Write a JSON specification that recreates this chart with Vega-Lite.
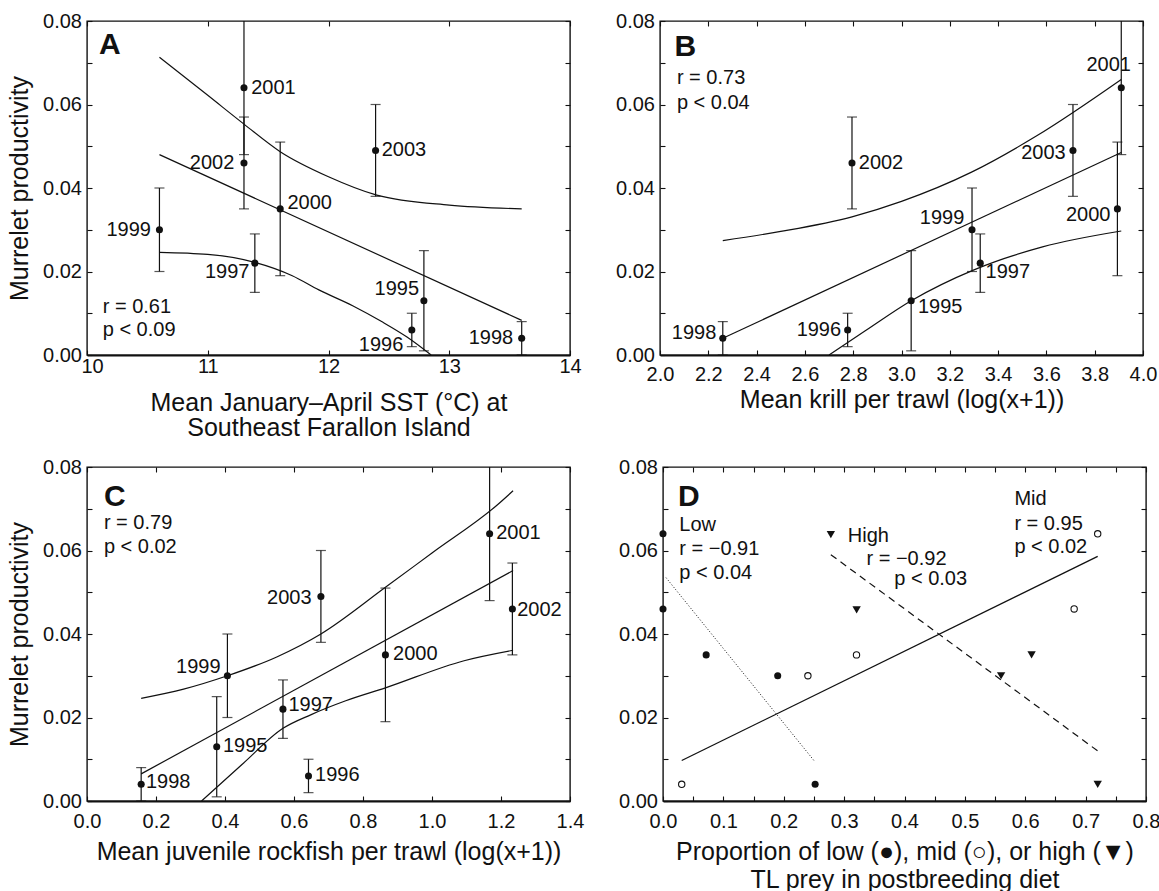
{
  "$schema": "https://vega.github.io/schema/vega-lite/v6.json",
  "background": "white",
  "padding": {"left": 6, "top": 10, "right": 0, "bottom": 0},
  "config": {
    "font": "Liberation Sans",
    "view": {"stroke": "#111", "strokeWidth": 1.4},
    "axis": {"labelFont": "Liberation Sans", "titleFont": "Liberation Sans", "labelFontSize": 20, "titleFontSize": 25, "titleFontWeight": "normal", "labelColor": "#111", "titleColor": "#111", "tickColor": "#111", "tickWidth": 1.1, "tickSize": -5, "grid": false, "domain": false, "labelOverlap": false, "labelFlush": false},
    "text": {"font": "Liberation Sans", "fontSize": 20, "color": "#111"}
  },
  "datasets": {
    "pts": [
      {"panel": "A", "year": 1995, "x": 12.79, "y": 0.013, "lo": 0.001, "hi": 0.025},
      {"panel": "A", "year": 1996, "x": 12.69, "y": 0.006, "lo": 0.002, "hi": 0.010},
      {"panel": "A", "year": 1997, "x": 11.39, "y": 0.022, "lo": 0.015, "hi": 0.029},
      {"panel": "A", "year": 1998, "x": 13.6, "y": 0.004, "lo": 0.0, "hi": 0.008},
      {"panel": "A", "year": 1999, "x": 10.6, "y": 0.030, "lo": 0.020, "hi": 0.040},
      {"panel": "A", "year": 2000, "x": 11.6, "y": 0.035, "lo": 0.019, "hi": 0.051},
      {"panel": "A", "year": 2001, "x": 11.3, "y": 0.064, "lo": 0.048, "hi": 0.085},
      {"panel": "A", "year": 2002, "x": 11.3, "y": 0.046, "lo": 0.035, "hi": 0.057},
      {"panel": "A", "year": 2003, "x": 12.39, "y": 0.049, "lo": 0.038, "hi": 0.060},
      {"panel": "B", "year": 1995, "x": 3.04, "y": 0.013, "lo": 0.001, "hi": 0.025},
      {"panel": "B", "year": 1996, "x": 2.777, "y": 0.006, "lo": 0.002, "hi": 0.010},
      {"panel": "B", "year": 1997, "x": 3.326, "y": 0.022, "lo": 0.015, "hi": 0.029},
      {"panel": "B", "year": 1998, "x": 2.26, "y": 0.004, "lo": 0.0, "hi": 0.008},
      {"panel": "B", "year": 1999, "x": 3.292, "y": 0.030, "lo": 0.020, "hi": 0.040},
      {"panel": "B", "year": 2000, "x": 3.894, "y": 0.035, "lo": 0.019, "hi": 0.051},
      {"panel": "B", "year": 2001, "x": 3.91, "y": 0.064, "lo": 0.048, "hi": 0.085},
      {"panel": "B", "year": 2002, "x": 2.795, "y": 0.046, "lo": 0.035, "hi": 0.057},
      {"panel": "B", "year": 2003, "x": 3.71, "y": 0.049, "lo": 0.038, "hi": 0.060},
      {"panel": "C", "year": 1995, "x": 0.376, "y": 0.013, "lo": 0.001, "hi": 0.025},
      {"panel": "C", "year": 1996, "x": 0.642, "y": 0.006, "lo": 0.002, "hi": 0.010},
      {"panel": "C", "year": 1997, "x": 0.568, "y": 0.022, "lo": 0.015, "hi": 0.029},
      {"panel": "C", "year": 1998, "x": 0.157, "y": 0.004, "lo": 0.0, "hi": 0.008},
      {"panel": "C", "year": 1999, "x": 0.407, "y": 0.030, "lo": 0.020, "hi": 0.040},
      {"panel": "C", "year": 2000, "x": 0.865, "y": 0.035, "lo": 0.019, "hi": 0.051},
      {"panel": "C", "year": 2001, "x": 1.167, "y": 0.064, "lo": 0.048, "hi": 0.085},
      {"panel": "C", "year": 2002, "x": 1.233, "y": 0.046, "lo": 0.035, "hi": 0.057},
      {"panel": "C", "year": 2003, "x": 0.678, "y": 0.049, "lo": 0.038, "hi": 0.060}
    ],
    "curves": [
      {"panel": "A", "band": "upper", "x": 10.6, "y": 0.0713},
      {"panel": "A", "band": "upper", "x": 11.0, "y": 0.0622},
      {"panel": "A", "band": "upper", "x": 11.3, "y": 0.0553},
      {"panel": "A", "band": "upper", "x": 11.6, "y": 0.0487},
      {"panel": "A", "band": "upper", "x": 12.0, "y": 0.0427},
      {"panel": "A", "band": "upper", "x": 12.4, "y": 0.0383},
      {"panel": "A", "band": "upper", "x": 13.0, "y": 0.0359},
      {"panel": "A", "band": "upper", "x": 13.6, "y": 0.035},
      {"panel": "A", "band": "fit", "x": 10.6, "y": 0.048},
      {"panel": "A", "band": "fit", "x": 13.6, "y": 0.0083},
      {"panel": "A", "band": "lower", "x": 10.6, "y": 0.0246},
      {"panel": "A", "band": "lower", "x": 11.0, "y": 0.0241},
      {"panel": "A", "band": "lower", "x": 11.39, "y": 0.0222},
      {"panel": "A", "band": "lower", "x": 11.7, "y": 0.019},
      {"panel": "A", "band": "lower", "x": 11.92, "y": 0.0156},
      {"panel": "A", "band": "lower", "x": 12.2, "y": 0.0118},
      {"panel": "A", "band": "lower", "x": 12.44, "y": 0.008},
      {"panel": "A", "band": "lower", "x": 12.65, "y": 0.0043},
      {"panel": "A", "band": "lower", "x": 12.85, "y": 0.0},
      {"panel": "B", "band": "upper", "x": 2.26, "y": 0.0274},
      {"panel": "B", "band": "upper", "x": 2.5, "y": 0.0296},
      {"panel": "B", "band": "upper", "x": 2.795, "y": 0.0331},
      {"panel": "B", "band": "upper", "x": 3.0, "y": 0.0368},
      {"panel": "B", "band": "upper", "x": 3.29, "y": 0.0438},
      {"panel": "B", "band": "upper", "x": 3.56, "y": 0.0525},
      {"panel": "B", "band": "upper", "x": 3.91, "y": 0.066},
      {"panel": "B", "band": "fit", "x": 2.26, "y": 0.004},
      {"panel": "B", "band": "fit", "x": 3.91, "y": 0.0485},
      {"panel": "B", "band": "lower", "x": 2.70, "y": 0.0},
      {"panel": "B", "band": "lower", "x": 2.85, "y": 0.0058},
      {"panel": "B", "band": "lower", "x": 3.04, "y": 0.013},
      {"panel": "B", "band": "lower", "x": 3.30, "y": 0.0204},
      {"panel": "B", "band": "lower", "x": 3.584, "y": 0.0259},
      {"panel": "B", "band": "lower", "x": 3.91, "y": 0.0297},
      {"panel": "C", "band": "upper", "x": 0.157, "y": 0.0246},
      {"panel": "C", "band": "upper", "x": 0.28, "y": 0.0268},
      {"panel": "C", "band": "upper", "x": 0.407, "y": 0.030},
      {"panel": "C", "band": "upper", "x": 0.55, "y": 0.0345},
      {"panel": "C", "band": "upper", "x": 0.678, "y": 0.040},
      {"panel": "C", "band": "upper", "x": 0.867, "y": 0.0513},
      {"panel": "C", "band": "upper", "x": 1.0, "y": 0.0594},
      {"panel": "C", "band": "upper", "x": 1.189, "y": 0.0709},
      {"panel": "C", "band": "upper", "x": 1.235, "y": 0.0743},
      {"panel": "C", "band": "fit", "x": 0.157, "y": 0.0065},
      {"panel": "C", "band": "fit", "x": 1.235, "y": 0.0552},
      {"panel": "C", "band": "lower", "x": 0.332, "y": 0.0},
      {"panel": "C", "band": "lower", "x": 0.45, "y": 0.0088},
      {"panel": "C", "band": "lower", "x": 0.568, "y": 0.0174},
      {"panel": "C", "band": "lower", "x": 0.65, "y": 0.0207},
      {"panel": "C", "band": "lower", "x": 0.75, "y": 0.024},
      {"panel": "C", "band": "lower", "x": 0.865, "y": 0.0271},
      {"panel": "C", "band": "lower", "x": 1.093, "y": 0.0336},
      {"panel": "C", "band": "lower", "x": 1.235, "y": 0.0361}
    ],
    "labels": [
      {"panel": "A", "text": "2001", "x": 11.36, "y": 0.064, "side": "R"},
      {"panel": "A", "text": "2002", "x": 11.22, "y": 0.046, "side": "L"},
      {"panel": "A", "text": "2003", "x": 12.44, "y": 0.049, "side": "R"},
      {"panel": "A", "text": "2000", "x": 11.66, "y": 0.0365, "side": "R"},
      {"panel": "A", "text": "1999", "x": 10.53, "y": 0.030, "side": "L"},
      {"panel": "A", "text": "1997", "x": 11.345, "y": 0.0198, "side": "L"},
      {"panel": "A", "text": "1995", "x": 12.75, "y": 0.0158, "side": "L"},
      {"panel": "A", "text": "1996", "x": 12.62, "y": 0.0024, "side": "L"},
      {"panel": "A", "text": "1998", "x": 13.53, "y": 0.0041, "side": "L"},
      {"panel": "B", "text": "1998", "x": 2.233, "y": 0.0052, "side": "L"},
      {"panel": "B", "text": "1996", "x": 2.75, "y": 0.006, "side": "L"},
      {"panel": "B", "text": "1995", "x": 3.068, "y": 0.0114, "side": "R"},
      {"panel": "B", "text": "1999", "x": 3.26, "y": 0.0327, "side": "L"},
      {"panel": "B", "text": "1997", "x": 3.348, "y": 0.0198, "side": "R"},
      {"panel": "B", "text": "2000", "x": 3.865, "y": 0.0335, "side": "L"},
      {"panel": "B", "text": "2002", "x": 2.823, "y": 0.046, "side": "R"},
      {"panel": "B", "text": "2003", "x": 3.68, "y": 0.0485, "side": "L"},
      {"panel": "B", "text": "2001", "x": 3.95, "y": 0.0695, "side": "L"},
      {"panel": "C", "text": "1998", "x": 0.171, "y": 0.0045, "side": "R"},
      {"panel": "C", "text": "1995", "x": 0.394, "y": 0.0132, "side": "R"},
      {"panel": "C", "text": "1999", "x": 0.387, "y": 0.0322, "side": "L"},
      {"panel": "C", "text": "1997", "x": 0.584, "y": 0.023, "side": "R"},
      {"panel": "C", "text": "1996", "x": 0.661, "y": 0.0062, "side": "R"},
      {"panel": "C", "text": "2000", "x": 0.887, "y": 0.0352, "side": "R"},
      {"panel": "C", "text": "2003", "x": 0.651, "y": 0.0487, "side": "L"},
      {"panel": "C", "text": "2001", "x": 1.186, "y": 0.0641, "side": "R"},
      {"panel": "C", "text": "2002", "x": 1.247, "y": 0.0457, "side": "R"}
    ],
    "notes": [
      {"panel": "A", "text": "A", "x": 10.1, "y": 0.0743, "kind": "letter"},
      {"panel": "A", "text": "r = 0.61", "x": 10.13, "y": 0.0114, "kind": "stat"},
      {"panel": "A", "text": "p < 0.09", "x": 10.13, "y": 0.006, "kind": "stat"},
      {"panel": "B", "text": "B", "x": 2.06, "y": 0.0738, "kind": "letter"},
      {"panel": "B", "text": "r = 0.73", "x": 2.07, "y": 0.0663, "kind": "stat"},
      {"panel": "B", "text": "p < 0.04", "x": 2.07, "y": 0.0604, "kind": "stat"},
      {"panel": "C", "text": "C", "x": 0.049, "y": 0.0729, "kind": "letter"},
      {"panel": "C", "text": "r = 0.79", "x": 0.049, "y": 0.0665, "kind": "stat"},
      {"panel": "C", "text": "p < 0.02", "x": 0.049, "y": 0.0608, "kind": "stat"},
      {"panel": "D", "text": "D", "x": 0.025, "y": 0.0728, "kind": "letter"},
      {"panel": "D", "text": "Low", "x": 0.027, "y": 0.0662, "kind": "stat"},
      {"panel": "D", "text": "r = −0.91", "x": 0.027, "y": 0.0604, "kind": "stat"},
      {"panel": "D", "text": "p < 0.04", "x": 0.027, "y": 0.0547, "kind": "stat"},
      {"panel": "D", "text": "High", "x": 0.306, "y": 0.0635, "kind": "stat"},
      {"panel": "D", "text": "r = −0.92", "x": 0.337, "y": 0.058, "kind": "stat"},
      {"panel": "D", "text": "p < 0.03", "x": 0.383, "y": 0.0532, "kind": "stat"},
      {"panel": "D", "text": "Mid", "x": 0.582, "y": 0.0724, "kind": "stat"},
      {"panel": "D", "text": "r = 0.95", "x": 0.582, "y": 0.0664, "kind": "stat"},
      {"panel": "D", "text": "p < 0.02", "x": 0.582, "y": 0.0608, "kind": "stat"}
    ],
    "diet": [
      {"cat": "low", "year": 2001, "x": 0.0, "y": 0.064},
      {"cat": "low", "year": 2002, "x": 0.0, "y": 0.046},
      {"cat": "low", "year": 2000, "x": 0.0715, "y": 0.035},
      {"cat": "low", "year": 1999, "x": 0.19, "y": 0.030},
      {"cat": "low", "year": 1998, "x": 0.252, "y": 0.004},
      {"cat": "mid", "year": 2001, "x": 0.72, "y": 0.064},
      {"cat": "mid", "year": 2002, "x": 0.681, "y": 0.046},
      {"cat": "mid", "year": 2000, "x": 0.3205, "y": 0.035},
      {"cat": "mid", "year": 1999, "x": 0.24, "y": 0.030},
      {"cat": "mid", "year": 1998, "x": 0.031, "y": 0.004},
      {"cat": "high", "year": 2001, "x": 0.278, "y": 0.0638},
      {"cat": "high", "year": 2002, "x": 0.3207, "y": 0.0458},
      {"cat": "high", "year": 2000, "x": 0.6105, "y": 0.035},
      {"cat": "high", "year": 1999, "x": 0.56, "y": 0.030},
      {"cat": "high", "year": 1998, "x": 0.72, "y": 0.004}
    ],
    "dietfit": [
      {"cat": "low", "x": 0.005, "y": 0.0535},
      {"cat": "low", "x": 0.25, "y": 0.0097},
      {"cat": "mid", "x": 0.031, "y": 0.0097},
      {"cat": "mid", "x": 0.72, "y": 0.0586},
      {"cat": "high", "x": 0.278, "y": 0.059},
      {"cat": "high", "x": 0.72, "y": 0.012}
    ]
  },
  "spacing": 14,
  "vconcat": [
    {
      "spacing": 32,
      "hconcat": [
        {
          "width": 483, "height": 334,
          "resolve": {"axis": {"x": "independent", "y": "independent"}},
          "encoding": {
            "x": {"field": "x", "type": "quantitative", "scale": {"domain": [10, 14], "nice": false, "zero": false}, "axis": null},
            "y": {"field": "y", "type": "quantitative", "scale": {"domain": [0, 0.08], "nice": false, "zero": false}, "axis": null}
          },
          "layer": [
            {
              "data": {"name": "pts"}, "transform": [{"filter": "datum.panel == 'A'"}],
              "mark": {"type": "rule", "color": "#111", "strokeWidth": 1.2, "clip": true},
              "encoding": {
                "x": {"field": "x", "type": "quantitative", "scale": {"domain": [10, 14], "nice": false, "zero": false},
                  "axis": {"orient": "bottom", "values": [10, 11, 12, 13, 14], "format": "d", "title": ["Mean January–April SST (°C) at", "Southeast Farallon Island"], "domain": true, "domainWidth": 2.2, "domainColor": "#111", "labelPadding": 6.3, "labelOffset": {"condition": {"test": "datum.value == 10", "value": 5}, "value": 0}, "titlePadding": 14, "titleLineHeight": 25.5}},
                "y": {"field": "lo", "type": "quantitative", "scale": {"domain": [0, 0.08], "nice": false, "zero": false},
                  "axis": {"orient": "left", "values": [0, 0.01, 0.02, 0.03, 0.04, 0.05, 0.06, 0.07, 0.08], "labelExpr": "round(datum.value*100) % 2 == 0 ? format(datum.value, '.2f') : ''", "title": "Murrelet productivity", "labelPadding": 10.5, "titlePadding": 10}},
                "y2": {"field": "hi"}
              }
            },
            {
              "data": {"name": "pts"}, "transform": [{"filter": "datum.panel == 'A'"}],
              "mark": {"type": "tick", "orient": "horizontal", "size": 10, "thickness": 1.2, "color": "#111", "clip": true},
              "encoding": {
                "x": {"field": "x", "type": "quantitative", "scale": {"domain": [10, 14], "nice": false, "zero": false},
                  "axis": {"orient": "top", "values": [10, 11, 12, 13, 14], "labels": false, "title": null}},
                "y": {"field": "lo", "type": "quantitative", "scale": {"domain": [0, 0.08], "nice": false, "zero": false},
                  "axis": {"orient": "right", "values": [0, 0.01, 0.02, 0.03, 0.04, 0.05, 0.06, 0.07, 0.08], "labels": false, "title": null}}
              }
            },
            {
              "data": {"name": "pts"}, "transform": [{"filter": "datum.panel == 'A'"}],
              "mark": {"type": "tick", "orient": "horizontal", "size": 10, "thickness": 1.2, "color": "#111", "clip": true},
              "encoding": {"y": {"field": "hi", "type": "quantitative", "scale": {"domain": [0, 0.08], "nice": false, "zero": false}, "axis": null}}
            },
            {
              "data": {"name": "curves"}, "transform": [{"filter": "datum.panel == 'A'"}],
              "mark": {"type": "line", "color": "#111", "strokeWidth": 1.2, "interpolate": "monotone"},
              "encoding": {"detail": {"field": "band"}}
            },
            {
              "data": {"name": "pts"}, "transform": [{"filter": "datum.panel == 'A'"}],
              "mark": {"type": "circle", "size": 50, "color": "#111", "opacity": 1}
            },
            {
              "data": {"name": "labels"}, "transform": [{"filter": "datum.panel == 'A' && datum.side == 'R'"}],
              "mark": {"type": "text", "align": "left", "baseline": "middle", "fontSize": 20},
              "encoding": {"text": {"field": "text"}}
            },
            {
              "data": {"name": "labels"}, "transform": [{"filter": "datum.panel == 'A' && datum.side == 'L'"}],
              "mark": {"type": "text", "align": "right", "baseline": "middle", "fontSize": 20},
              "encoding": {"text": {"field": "text"}}
            },
            {
              "data": {"name": "notes"}, "transform": [{"filter": "datum.panel == 'A' && datum.kind == 'letter'"}],
              "mark": {"type": "text", "align": "left", "baseline": "middle", "fontSize": 30, "fontWeight": "bold"},
              "encoding": {"text": {"field": "text"}}
            },
            {
              "data": {"name": "notes"}, "transform": [{"filter": "datum.panel == 'A' && datum.kind == 'stat'"}],
              "mark": {"type": "text", "align": "left", "baseline": "middle", "fontSize": 20},
              "encoding": {"text": {"field": "text"}}
            }
          ]
        },
        {
          "width": 483, "height": 334,
          "resolve": {"axis": {"x": "independent", "y": "independent"}},
          "encoding": {
            "x": {"field": "x", "type": "quantitative", "scale": {"domain": [2, 4], "nice": false, "zero": false}, "axis": null},
            "y": {"field": "y", "type": "quantitative", "scale": {"domain": [0, 0.08], "nice": false, "zero": false}, "axis": null}
          },
          "layer": [
            {
              "data": {"name": "pts"}, "transform": [{"filter": "datum.panel == 'B'"}],
              "mark": {"type": "rule", "color": "#111", "strokeWidth": 1.2, "clip": true},
              "encoding": {
                "x": {"field": "x", "type": "quantitative", "scale": {"domain": [2, 4], "nice": false, "zero": false},
                  "axis": {"orient": "bottom", "values": [2, 2.2, 2.4, 2.6, 2.8, 3, 3.2, 3.4, 3.6, 3.8, 4], "format": ".1f", "title": "Mean krill per trawl (log(x+1))", "domain": true, "domainWidth": 2.2, "domainColor": "#111", "labelPadding": 14.3, "titlePadding": 3}},
                "y": {"field": "lo", "type": "quantitative", "scale": {"domain": [0, 0.08], "nice": false, "zero": false},
                  "axis": {"orient": "left", "values": [0, 0.01, 0.02, 0.03, 0.04, 0.05, 0.06, 0.07, 0.08], "labelExpr": "round(datum.value*100) % 2 == 0 ? format(datum.value, '.2f') : ''", "title": null, "labelPadding": 10.5}},
                "y2": {"field": "hi"}
              }
            },
            {
              "data": {"name": "pts"}, "transform": [{"filter": "datum.panel == 'B'"}],
              "mark": {"type": "tick", "orient": "horizontal", "size": 10, "thickness": 1.2, "color": "#111", "clip": true},
              "encoding": {
                "x": {"field": "x", "type": "quantitative", "scale": {"domain": [2, 4], "nice": false, "zero": false},
                  "axis": {"orient": "top", "values": [2, 2.2, 2.4, 2.6, 2.8, 3, 3.2, 3.4, 3.6, 3.8, 4], "labels": false, "title": null}},
                "y": {"field": "lo", "type": "quantitative", "scale": {"domain": [0, 0.08], "nice": false, "zero": false},
                  "axis": {"orient": "right", "values": [0, 0.01, 0.02, 0.03, 0.04, 0.05, 0.06, 0.07, 0.08], "labels": false, "title": null}}
              }
            },
            {
              "data": {"name": "pts"}, "transform": [{"filter": "datum.panel == 'B'"}],
              "mark": {"type": "tick", "orient": "horizontal", "size": 10, "thickness": 1.2, "color": "#111", "clip": true},
              "encoding": {"y": {"field": "hi", "type": "quantitative", "scale": {"domain": [0, 0.08], "nice": false, "zero": false}, "axis": null}}
            },
            {
              "data": {"name": "curves"}, "transform": [{"filter": "datum.panel == 'B'"}],
              "mark": {"type": "line", "color": "#111", "strokeWidth": 1.2, "interpolate": "monotone"},
              "encoding": {"detail": {"field": "band"}}
            },
            {
              "data": {"name": "pts"}, "transform": [{"filter": "datum.panel == 'B'"}],
              "mark": {"type": "circle", "size": 50, "color": "#111", "opacity": 1}
            },
            {
              "data": {"name": "labels"}, "transform": [{"filter": "datum.panel == 'B' && datum.side == 'R'"}],
              "mark": {"type": "text", "align": "left", "baseline": "middle", "fontSize": 20},
              "encoding": {"text": {"field": "text"}}
            },
            {
              "data": {"name": "labels"}, "transform": [{"filter": "datum.panel == 'B' && datum.side == 'L'"}],
              "mark": {"type": "text", "align": "right", "baseline": "middle", "fontSize": 20},
              "encoding": {"text": {"field": "text"}}
            },
            {
              "data": {"name": "notes"}, "transform": [{"filter": "datum.panel == 'B' && datum.kind == 'letter'"}],
              "mark": {"type": "text", "align": "left", "baseline": "middle", "fontSize": 30, "fontWeight": "bold"},
              "encoding": {"text": {"field": "text"}}
            },
            {
              "data": {"name": "notes"}, "transform": [{"filter": "datum.panel == 'B' && datum.kind == 'stat'"}],
              "mark": {"type": "text", "align": "left", "baseline": "middle", "fontSize": 20},
              "encoding": {"text": {"field": "text"}}
            }
          ]
        }
      ]
    },
    {
      "spacing": 32,
      "hconcat": [
        {
          "width": 483, "height": 334,
          "resolve": {"axis": {"x": "independent", "y": "independent"}},
          "encoding": {
            "x": {"field": "x", "type": "quantitative", "scale": {"domain": [0, 1.4], "nice": false, "zero": false}, "axis": null},
            "y": {"field": "y", "type": "quantitative", "scale": {"domain": [0, 0.08], "nice": false, "zero": false}, "axis": null}
          },
          "layer": [
            {
              "data": {"name": "pts"}, "transform": [{"filter": "datum.panel == 'C'"}],
              "mark": {"type": "rule", "color": "#111", "strokeWidth": 1.2, "clip": true},
              "encoding": {
                "x": {"field": "x", "type": "quantitative", "scale": {"domain": [0, 1.4], "nice": false, "zero": false},
                  "axis": {"orient": "bottom", "values": [0, 0.2, 0.4, 0.6, 0.8, 1.0, 1.2, 1.4], "format": ".1f", "title": "Mean juvenile rockfish per trawl (log(x+1))", "domain": true, "domainWidth": 2.2, "domainColor": "#111", "labelPadding": 15.3, "titlePadding": 8}},
                "y": {"field": "lo", "type": "quantitative", "scale": {"domain": [0, 0.08], "nice": false, "zero": false},
                  "axis": {"orient": "left", "values": [0, 0.01, 0.02, 0.03, 0.04, 0.05, 0.06, 0.07, 0.08], "labelExpr": "round(datum.value*100) % 2 == 0 ? format(datum.value, '.2f') : ''", "title": "Murrelet productivity", "labelPadding": 10.5, "titlePadding": 10}},
                "y2": {"field": "hi"}
              }
            },
            {
              "data": {"name": "pts"}, "transform": [{"filter": "datum.panel == 'C'"}],
              "mark": {"type": "tick", "orient": "horizontal", "size": 10, "thickness": 1.2, "color": "#111", "clip": true},
              "encoding": {
                "x": {"field": "x", "type": "quantitative", "scale": {"domain": [0, 1.4], "nice": false, "zero": false},
                  "axis": {"orient": "top", "values": [0, 0.2, 0.4, 0.6, 0.8, 1.0, 1.2, 1.4], "labels": false, "title": null}},
                "y": {"field": "lo", "type": "quantitative", "scale": {"domain": [0, 0.08], "nice": false, "zero": false},
                  "axis": {"orient": "right", "values": [0, 0.01, 0.02, 0.03, 0.04, 0.05, 0.06, 0.07, 0.08], "labels": false, "title": null}}
              }
            },
            {
              "data": {"name": "pts"}, "transform": [{"filter": "datum.panel == 'C'"}],
              "mark": {"type": "tick", "orient": "horizontal", "size": 10, "thickness": 1.2, "color": "#111", "clip": true},
              "encoding": {"y": {"field": "hi", "type": "quantitative", "scale": {"domain": [0, 0.08], "nice": false, "zero": false}, "axis": null}}
            },
            {
              "data": {"name": "curves"}, "transform": [{"filter": "datum.panel == 'C'"}],
              "mark": {"type": "line", "color": "#111", "strokeWidth": 1.2, "interpolate": "monotone"},
              "encoding": {"detail": {"field": "band"}}
            },
            {
              "data": {"name": "pts"}, "transform": [{"filter": "datum.panel == 'C'"}],
              "mark": {"type": "circle", "size": 50, "color": "#111", "opacity": 1}
            },
            {
              "data": {"name": "labels"}, "transform": [{"filter": "datum.panel == 'C' && datum.side == 'R'"}],
              "mark": {"type": "text", "align": "left", "baseline": "middle", "fontSize": 20},
              "encoding": {"text": {"field": "text"}}
            },
            {
              "data": {"name": "labels"}, "transform": [{"filter": "datum.panel == 'C' && datum.side == 'L'"}],
              "mark": {"type": "text", "align": "right", "baseline": "middle", "fontSize": 20},
              "encoding": {"text": {"field": "text"}}
            },
            {
              "data": {"name": "notes"}, "transform": [{"filter": "datum.panel == 'C' && datum.kind == 'letter'"}],
              "mark": {"type": "text", "align": "left", "baseline": "middle", "fontSize": 30, "fontWeight": "bold"},
              "encoding": {"text": {"field": "text"}}
            },
            {
              "data": {"name": "notes"}, "transform": [{"filter": "datum.panel == 'C' && datum.kind == 'stat'"}],
              "mark": {"type": "text", "align": "left", "baseline": "middle", "fontSize": 20},
              "encoding": {"text": {"field": "text"}}
            }
          ]
        },
        {
          "width": 483, "height": 334,
          "resolve": {"axis": {"x": "independent", "y": "independent"}},
          "encoding": {
            "x": {"field": "x", "type": "quantitative", "scale": {"domain": [0, 0.8], "nice": false, "zero": false}, "axis": null},
            "y": {"field": "y", "type": "quantitative", "scale": {"domain": [0, 0.08], "nice": false, "zero": false}, "axis": null}
          },
          "layer": [
            {
              "data": {"name": "dietfit"}, "transform": [{"filter": "datum.cat == 'mid'"}],
              "mark": {"type": "line", "color": "#111", "strokeWidth": 1.3},
              "encoding": {
                "x": {"field": "x", "type": "quantitative", "scale": {"domain": [0, 0.8], "nice": false, "zero": false},
                  "axis": {"orient": "bottom", "values": [0, 0.05, 0.1, 0.15, 0.2, 0.25, 0.3, 0.35, 0.4, 0.45, 0.5, 0.55, 0.6, 0.65, 0.7, 0.75, 0.8], "labelExpr": "round(datum.value*100) % 10 == 0 ? format(datum.value, '.1f') : ''", "title": ["Proportion of low (●), mid (○), or high (▼)", "TL prey in postbreeding diet"], "domain": true, "domainWidth": 2.2, "domainColor": "#111", "labelPadding": 15.3, "titlePadding": 8, "titleLineHeight": 28}},
                "y": {"field": "y", "type": "quantitative", "scale": {"domain": [0, 0.08], "nice": false, "zero": false},
                  "axis": {"orient": "left", "values": [0, 0.01, 0.02, 0.03, 0.04, 0.05, 0.06, 0.07, 0.08], "labelExpr": "round(datum.value*100) % 2 == 0 ? format(datum.value, '.2f') : ''", "title": null, "labelPadding": 10.5}}
              }
            },
            {
              "data": {"name": "dietfit"}, "transform": [{"filter": "datum.cat == 'low'"}],
              "mark": {"type": "line", "color": "#111", "strokeWidth": 1, "strokeDash": [1, 2]},
              "encoding": {
                "x": {"field": "x", "type": "quantitative", "scale": {"domain": [0, 0.8], "nice": false, "zero": false},
                  "axis": {"orient": "top", "values": [0, 0.05, 0.1, 0.15, 0.2, 0.25, 0.3, 0.35, 0.4, 0.45, 0.5, 0.55, 0.6, 0.65, 0.7, 0.75, 0.8], "labels": false, "title": null}},
                "y": {"field": "y", "type": "quantitative", "scale": {"domain": [0, 0.08], "nice": false, "zero": false},
                  "axis": {"orient": "right", "values": [0, 0.01, 0.02, 0.03, 0.04, 0.05, 0.06, 0.07, 0.08], "labels": false, "title": null}}
              }
            },
            {
              "data": {"name": "dietfit"}, "transform": [{"filter": "datum.cat == 'high'"}],
              "mark": {"type": "line", "color": "#111", "strokeWidth": 1.2, "strokeDash": [7, 5]}
            },
            {
              "data": {"name": "diet"}, "transform": [{"filter": "datum.cat == 'low'"}],
              "mark": {"type": "circle", "size": 50, "color": "#111", "opacity": 1}
            },
            {
              "data": {"name": "diet"}, "transform": [{"filter": "datum.cat == 'mid'"}],
              "mark": {"type": "point", "shape": "circle", "size": 40, "filled": false, "stroke": "#111", "fill": "white", "fillOpacity": 1, "strokeWidth": 1.1, "opacity": 1}
            },
            {
              "data": {"name": "diet"}, "transform": [{"filter": "datum.cat == 'high'"}],
              "mark": {"type": "point", "shape": "triangle-down", "size": 70, "filled": true, "color": "#111", "opacity": 1}
            },
            {
              "data": {"name": "notes"}, "transform": [{"filter": "datum.panel == 'D' && datum.kind == 'letter'"}],
              "mark": {"type": "text", "align": "left", "baseline": "middle", "fontSize": 30, "fontWeight": "bold"},
              "encoding": {"text": {"field": "text"}}
            },
            {
              "data": {"name": "notes"}, "transform": [{"filter": "datum.panel == 'D' && datum.kind == 'stat'"}],
              "mark": {"type": "text", "align": "left", "baseline": "middle", "fontSize": 20},
              "encoding": {"text": {"field": "text"}}
            }
          ]
        }
      ]
    }
  ]
}
